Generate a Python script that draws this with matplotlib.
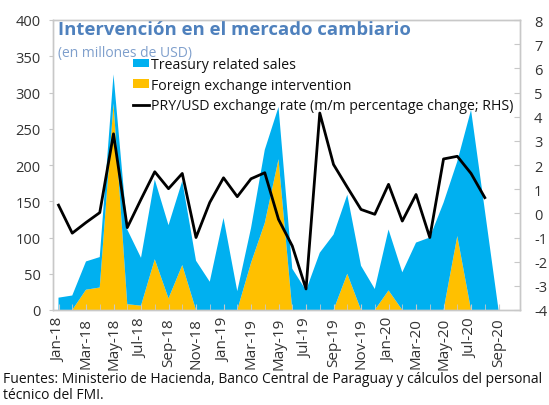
import matplotlib
matplotlib.use("Agg")
import matplotlib.pyplot as plt
import numpy as np

plt.rcParams['font.family'] = ['Open Sans', 'DejaVu Sans']
plt.rcParams['axes.unicode_minus'] = False

months = ["Jan-18", "Feb-18", "Mar-18", "Apr-18", "May-18", "Jun-18", "Jul-18", "Aug-18",
          "Sep-18", "Oct-18", "Nov-18", "Dec-18", "Jan-19", "Feb-19", "Mar-19", "Apr-19",
          "May-19", "Jun-19", "Jul-19", "Aug-19", "Sep-19", "Oct-19", "Nov-19", "Dec-19",
          "Jan-20", "Feb-20", "Mar-20", "Apr-20", "May-20", "Jun-20", "Jul-20", "Aug-20",
          "Sep-20"]

fx_intervention = [0, 0, 28, 31, 285, 8, 6, 70, 16, 62, 0, 0, 0, 0, 65, 120, 208, 0, 0, 0,
                   0, 50, 0, 0, 27, 0, 0, 0, 0, 102, 0, 0, 0]
treasury_sales = [17, 20, 39, 42, 40, 103, 66, 110, 101, 116, 68, 39, 127, 26, 48, 101, 72,
                  57, 27, 79, 104, 109, 61, 29, 84, 52, 93, 100, 148, 103, 276, 138, 0]
exchange_rate = [0.34, -0.82, -0.38, 0.03, 3.29, -0.59, 0.58, 1.72, 1.02, 1.65, -1.0, 0.45,
                 1.47, 0.69, 1.43, 1.68, -0.25, -1.35, -3.13, 4.15, 2.02, 1.08, 0.16, -0.04,
                 1.2, -0.32, 0.78, -1.0, 2.25, 2.36, 1.65, 0.65]

BLUE = "#00b0f0"
YELLOW = "#ffc000"
FRAME = "#c8c8c8"
TXT = "#333333"

W, H = 549, 406
fig = plt.figure(figsize=(W / 100, H / 100), dpi=100)
ax = fig.add_axes([53 / W, 1 - 311 / H, (520 - 53) / W, (311 - 21) / H])

x = np.arange(len(months))
ax.stackplot(x, fx_intervention, treasury_sales, colors=[YELLOW, BLUE],
             labels=["Foreign exchange intervention", "Treasury related sales"],
             linewidth=0)
ax.set_xlim(-0.4, 33.56)
ax.set_ylim(0, 400)
ax.set_yticks(np.arange(0, 401, 50))
ax.set_xticks(x[::2])
ax.set_xticklabels(months[::2], rotation=90)
ax.set_xticks(x, minor=True)

ax2 = ax.twinx()
xl = np.arange(len(exchange_rate))
ax2.plot(xl, exchange_rate, color="black", lw=2,
         label="PRY/USD exchange rate (m/m percentage change; RHS)")
ax2.set_ylim(-4, 8)
ax2.set_yticks(np.arange(-4, 9, 1))

for a in (ax, ax2):
    for s in a.spines.values():
        s.set_color(FRAME)
        s.set_linewidth(1)

ax.tick_params(axis='y', direction='out', length=3, color=FRAME, labelsize=10.5,
               labelcolor=TXT, pad=6)
ax.tick_params(axis='x', which='major', direction='in', length=4, color=FRAME,
               labelsize=11, labelcolor=TXT, pad=5)
ax.tick_params(axis='x', which='minor', direction='in', length=4, color=FRAME)
ax2.tick_params(axis='y', direction='in', length=4, color=FRAME, labelsize=10.5,
                labelcolor=TXT, pad=10)

# title inside plot
ax.text(5 / 467, 1 - 0 / 290, "Intervención en el mercado cambiario",
        transform=ax.transAxes, ha='left', va='top', fontsize=13.3,
        fontweight='bold', color="#4f81bd")
ax.text(5 / 467, 1 - 25 / 290, "(en millones de USD)", transform=ax.transAxes,
        ha='left', va='top', fontsize=10, color="#7f9fcc")

h1, l1 = ax.get_legend_handles_labels()
h2, l2 = ax2.get_legend_handles_labels()
handles = [h1[1], h1[0], h2[0]]
labels = [l1[1], l1[0], l2[0]]
leg = ax2.legend(handles, labels, loc='upper left',
                 bbox_to_anchor=(133 / W, 1 - 58 / H), bbox_transform=fig.transFigure,
                 frameon=False, fontsize=10.2, handlelength=1.1, handleheight=0.55,
                 handletextpad=0.15, labelspacing=0.4, borderpad=0, borderaxespad=0)
for t in leg.get_texts():
    t.set_color("#111111")

fig.text(3 / W, 1 - 372 / H,
         "Fuentes: Ministerio de Hacienda, Banco Central de Paraguay y cálculos del personal",
         ha='left', va='top', fontsize=10, color="#111111")
fig.text(3 / W, 1 - 388 / H, "técnico del FMI.", ha='left', va='top', fontsize=10,
         color="#111111")

fig.savefig("out.png", dpi=100)
